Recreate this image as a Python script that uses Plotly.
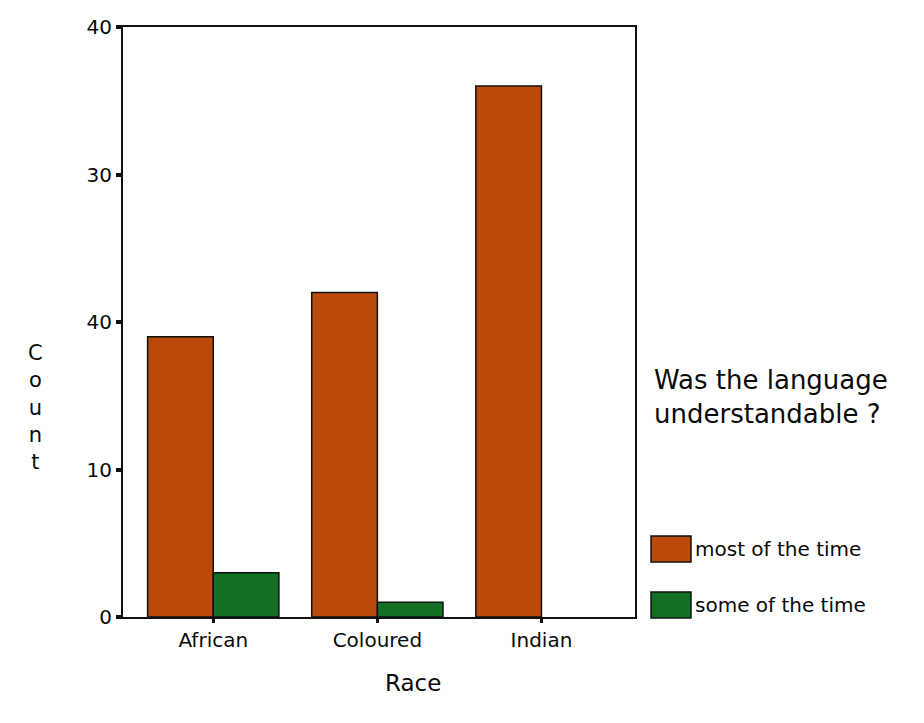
import plotly.graph_objects as go

# Survey counts by race
races = ["African", "Coloured", "Indian"]
most_of_the_time = [19, 22, 36]
some_of_the_time = [3, 1, 0]

y_tick_values = [0, 10, 20, 30, 40]
y_tick_labels = ["0", "10", "40", "30", "40"]

series_names = ["most of the time", "some of the time"]
series_colors = ["#BA4A0C", "#137022"]

FONT = "DejaVu Sans, Liberation Sans, Arial, sans-serif"

fig = go.Figure()
for name, vals, col in zip(series_names, [most_of_the_time, some_of_the_time], series_colors):
    # zero-height bars get no outline
    widths = [1.5 if v > 0 else 0 for v in vals]
    fig.add_trace(go.Bar(
        x=races, y=vals, name=name,
        marker=dict(color=col, line=dict(color="#111111", width=widths)),
        showlegend=False,
    ))

fig.update_layout(
    width=924, height=723,
    margin=dict(l=123, r=289, t=27, b=106),
    paper_bgcolor="white", plot_bgcolor="white",
    barmode="group", bargap=0.2, bargroupgap=0,
    font=dict(family=FONT, color="#0a0a0a"),
    xaxis=dict(
        type="category", range=[-0.55, 2.57],
        showline=True, linecolor="#111111", linewidth=2, mirror=True,
        ticks="outside", ticklen=4, tickwidth=3, tickcolor="#111111",
        tickfont=dict(size=20), showgrid=False, zeroline=False,
    ),
    yaxis=dict(
        range=[0, 40], tickvals=y_tick_values, ticktext=y_tick_labels,
        showline=True, linecolor="#111111", linewidth=2, mirror=True,
        ticks="outside", ticklen=5, tickwidth=4, tickcolor="#111111",
        tickfont=dict(size=20), showgrid=False, zeroline=False,
    ),
)

W, H = 924, 723
L, R, T, B = 123, 289, 27, 106
pw, ph = W - L - R, H - T - B


def px(x):
    return (x - L) / pw


def py(y):
    return (H - B - y) / ph


def label(text, x, y, size, xanchor="center", align="center"):
    fig.add_annotation(text=text, x=px(x), y=py(y), xref="paper", yref="paper",
                       showarrow=False, xanchor=xanchor, yanchor="middle",
                       align=align, font=dict(size=size))


# Axis titles
label("Race", 413, 683, 23)
label("C<br>o<br>u<br>n<br>t", 35, 408, 21)

# Legend drawn beside the plot
label("Was the language<br>understandable ?", 652, 397, 26, xanchor="left", align="left")
legend_rows = [549, 605]
for name, col, yy in zip(series_names, series_colors, legend_rows):
    fig.add_shape(type="rect", xref="paper", yref="paper",
                  x0=px(651), x1=px(691), y0=py(yy + 13), y1=py(yy - 13),
                  fillcolor=col, line=dict(color="#111111", width=1.5))
    label(name, 693, yy, 20, xanchor="left")

fig.write_html("out.html")
